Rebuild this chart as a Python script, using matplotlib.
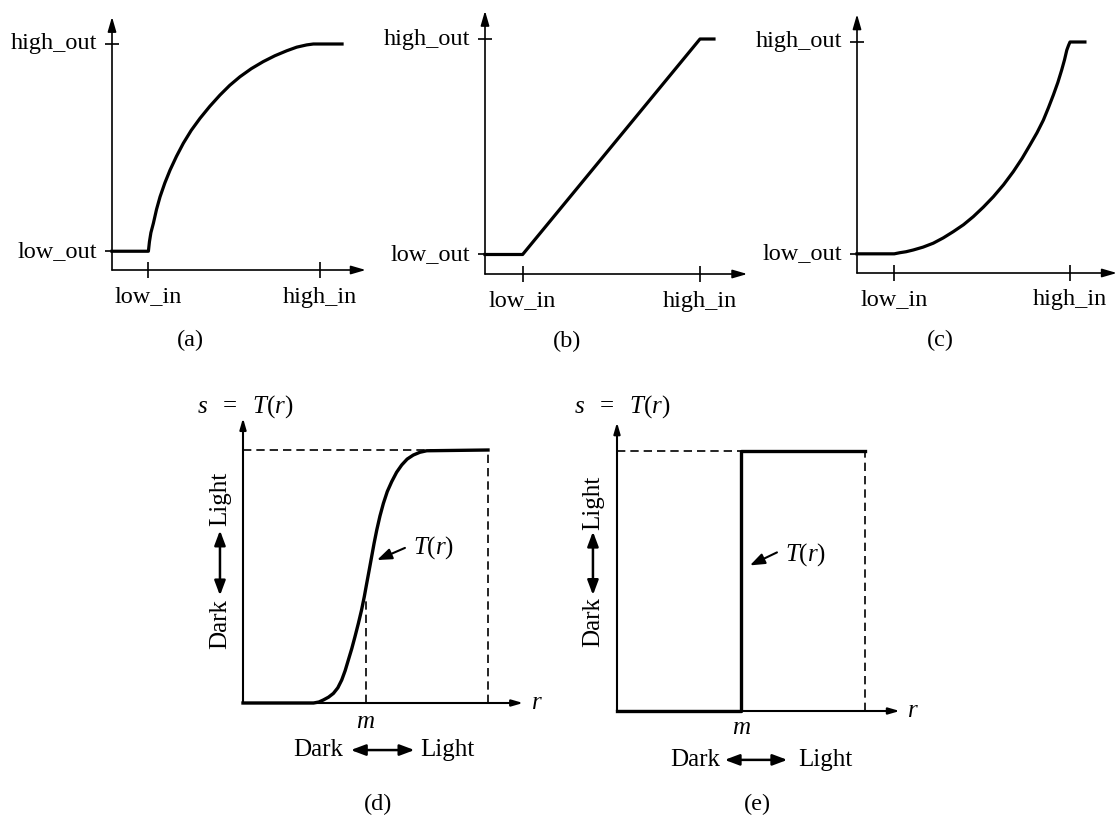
import numpy as np
import matplotlib
matplotlib.use('Agg')
import matplotlib.pyplot as plt

plt.rcParams['font.family'] = ['Liberation Serif', 'DejaVu Serif']
plt.rcParams['mathtext.fontset'] = 'custom'
plt.rcParams['mathtext.rm'] = 'Liberation Serif'
plt.rcParams['mathtext.it'] = 'Liberation Serif:italic'

# Dados (unidades normalizadas: high_in = high_out = 1)
low_in, high_in = 0.175, 1.0
low_out, high_out = 0.083, 1.0

# (a) gamma < 1
a_x = [0, 0.175, 0.180, 0.187, 0.199, 0.214, 0.231, 0.254, 0.279, 0.310, 0.343, 0.381, 0.423,
       0.470, 0.519, 0.566, 0.615, 0.670, 0.727, 0.783, 0.840, 0.888, 0.936, 0.968, 1.106]
a_y = [0.083, 0.083, 0.125, 0.165, 0.207, 0.268, 0.324, 0.385, 0.442, 0.503, 0.561, 0.618, 0.671,
       0.724, 0.774, 0.817, 0.855, 0.891, 0.922, 0.948, 0.970, 0.986, 0.996, 1.0, 1.0]
# (b) linear
b_x = [0, 0.175, 1.0, 1.065]
b_y = [0.083, 0.083, 1.0, 1.0]
# (c) gamma > 1
c_x = [0, 0.175, 0.202, 0.230, 0.264, 0.310, 0.358, 0.405, 0.452, 0.500, 0.546, 0.593, 0.640,
       0.688, 0.734, 0.775, 0.812, 0.845, 0.875, 0.899, 0.922, 0.943, 0.961, 0.974, 0.985,
       0.993, 1.0, 1.07]
c_y = [0.083, 0.083, 0.088, 0.092, 0.0996, 0.112, 0.129, 0.152, 0.179, 0.209, 0.244, 0.285, 0.330,
       0.382, 0.439, 0.496, 0.554, 0.607, 0.662, 0.716, 0.771, 0.825, 0.879, 0.922, 0.965,
       0.985, 1.0, 1.0]

# (d) contrast stretching, (e) thresholding
m = 0.5
d_r = [0, 0.288, 0.310, 0.328, 0.349, 0.369, 0.387, 0.403, 0.417, 0.430, 0.444, 0.457, 0.471,
       0.484, 0.495, 0.505, 0.515, 0.525, 0.535, 0.546, 0.559, 0.573, 0.589, 0.607, 0.627,
       0.648, 0.670, 0.695, 0.722, 0.750, 1.0]
d_s = [0, 0, 0.004, 0.012, 0.023, 0.038, 0.060, 0.091, 0.128, 0.170, 0.215, 0.262, 0.315,
       0.368, 0.420, 0.473, 0.525, 0.578, 0.631, 0.684, 0.739, 0.789, 0.836, 0.875, 0.912,
       0.941, 0.964, 0.980, 0.991, 0.997, 1.0]
e_r = [0, m, m, 1.0]
e_s = [0, 0, 1.0, 1.0]

W, H = 1115, 818
fig = plt.figure(figsize=(W / 100, H / 100), dpi=100)


def panel(ox, oy, sx, sy, x0=-0.3, x1=1.3, y0=-0.3, y1=1.25):
    # eixo posicionado pela origem (pixels) e pela escala (pixels por unidade)
    ax = fig.add_axes([(ox + x0 * sx) / W, 1 - (oy - y0 * sy) / H,
                       (x1 - x0) * sx / W, (y1 - y0) * sy / H])
    ax.set_xlim(x0, x1)
    ax.set_ylim(y0, y1)
    ax.axis('off')
    return ax


def arrow(ax, start, end, lw=1.2, ms=16, style='-|>,head_length=0.55,head_width=0.16'):
    ax.annotate('', xy=end, xytext=start, annotation_clip=False,
                arrowprops=dict(arrowstyle=style, lw=lw, color='k',
                                mutation_scale=ms, shrinkA=0, shrinkB=0))


def top_panel(ax, x, y):
    arrow(ax, (0, 0), (1.22, 0))
    arrow(ax, (0, 0), (0, 1.12))
    ax.plot([low_in, high_in], [0, 0], ls='none', marker='|', ms=11, mew=1.2, color='k', clip_on=False)
    ax.plot([0, 0], [low_out, high_out], ls='none', marker='_', ms=10, mew=1.2, color='k', clip_on=False)
    ax.plot(x, y, color='k', lw=2.3, clip_on=False, solid_joinstyle='round')
    fs = 17.5
    for val, txt in [(high_out, 'high_out'), (low_out, 'low_out')]:
        ax.annotate(txt, xy=(0, val), xytext=(-15, 0), textcoords='offset pixels',
                    ha='right', va='center', fontsize=fs, annotation_clip=False)
    for val, txt in [(low_in, 'low_in'), (high_in, 'high_in')]:
        ax.annotate(txt, xy=(val, 0), xytext=(0, -27), textcoords='offset pixels',
                    ha='center', va='center', fontsize=fs, annotation_clip=False)


ax_a = panel(112, 270, 208, 226)
top_panel(ax_a, a_x, a_y)
ax_b = panel(485, 274, 215, 235)
top_panel(ax_b, b_x, b_y)
ax_c = panel(857, 273, 213, 231)
top_panel(ax_c, c_x, c_y)

dbl = '<|-|>,head_length=0.8,head_width=0.3'


def bottom_panel(ax, r, s, xend, ytop, lab, dashed_m):
    fs = 18
    arrow(ax, (0, 0), (xend, 0), lw=1.5, ms=12)
    arrow(ax, (0, 0), (0, ytop), lw=1.5, ms=12)
    dash = (0, (5, 3))
    ax.plot([0, 1], [1, 1], color='k', lw=1.2, ls=dash, clip_on=False)
    ax.plot([1, 1], [0, 1], color='k', lw=1.2, ls=dash, clip_on=False)
    if dashed_m:
        ax.plot([m, m], [0, np.interp(m, r, s) - 0.03], color='k', lw=1.2, ls=dash, clip_on=False)
    ax.plot(r, s, color='k', lw=2.4, clip_on=False, solid_joinstyle='round')
    ax.text(lab['s'][0], lab['s'][1], r'$s\ \ =\ \ T(r)$', ha='center', va='center', fontsize=fs)
    ax.text(xend + 0.055, 0, r'$r$', ha='center', va='center', fontsize=fs)
    ax.text(m, lab['m'], r'$m$', ha='center', va='center', fontsize=fs)
    tx, ty = lab['T']
    ax.text(tx, ty, r'$T(r)$', ha='left', va='center', fontsize=fs)
    arrow(ax, lab['Ta'][0], lab['Ta'][1], lw=1.5, ms=11, style='-|>,head_length=0.8,head_width=0.3')
    # Dark <-> Light horizontal
    hy, hd, ha0, ha1, hl = lab['h']
    ax.text(hd, hy, 'Dark', ha='right', va='center', fontsize=fs)
    arrow(ax, (ha0, hy), (ha1, hy), lw=1.8, ms=11, style=dbl)
    ax.text(hl, hy, 'Light', ha='left', va='center', fontsize=fs)
    # Dark <-> Light vertical
    vx, vd, va0, va1, vl = lab['v']
    ax.text(vx, vd, 'Dark', ha='center', va='top', rotation=90, fontsize=fs)
    arrow(ax, (vx, va0), (vx, va1), lw=1.8, ms=11, style=dbl)
    ax.text(vx, vl, 'Light', ha='center', va='bottom', rotation=90, fontsize=fs)


ax_d = panel(243, 703, 245, 253)
bottom_panel(ax_d, d_r, d_s, 1.143, 1.126,
             dict(s=(0.01, 1.17), m=-0.075, T=(0.694, 0.613),
                  Ta=((0.661, 0.613), (0.547, 0.565)),
                  h=(-0.186, 0.41, 0.44, 0.70, 0.722),
                  v=(-0.094, 0.41, 0.425, 0.682, 0.70)),
             dashed_m=True)

ax_e = panel(617, 711, 248, 260)
bottom_panel(ax_e, e_r, e_s, 1.14, 1.11,
             dict(s=(0.02, 1.17), m=-0.065, T=(0.677, 0.6),
                  Ta=((0.645, 0.61), (0.536, 0.56)),
                  h=(-0.188, 0.415, 0.434, 0.687, 0.73),
                  v=(-0.097, 0.438, 0.446, 0.690, 0.696)),
             dashed_m=False)

# Rótulos das figuras
for (px, py), txt in [((190, 340), '(a)'), ((567, 341), '(b)'), ((940, 340), '(c)'),
                      ((378, 804), '(d)'), ((757, 804), '(e)')]:
    fig.text(px / W, 1 - py / H, txt, ha='center', va='center', fontsize=17.5)

plt.savefig('out.png', dpi=100)
